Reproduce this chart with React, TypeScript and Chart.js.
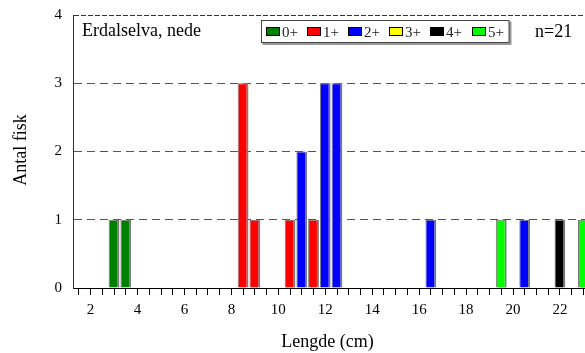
import React, { useEffect, useRef } from 'react';
import { Chart, registerables } from 'chart.js';

Chart.register(...registerables);

const FONT = '"Liberation Serif", "Times New Roman", serif';

const ageLabels = ['0+', '1+', '2+', '3+', '4+', '5+'];
const ageColors = ['#008000', '#ff0000', '#0000ff', '#ffff00', '#000000', '#00ff00'];

const age0Lengths = [3.0, 3.5];
const age0Counts = [1, 1];
const age1Lengths = [8.5, 9.0, 10.5, 11.5];
const age1Counts = [3, 1, 1, 1];
const age2Lengths = [11.0, 12.0, 12.5, 16.5, 20.5];
const age2Counts = [2, 3, 3, 1, 1];
const age3Lengths: number[] = [];
const age3Counts: number[] = [];
const age4Lengths = [22.0];
const age4Counts = [1];
const age5Lengths = [19.5, 23.0];
const age5Counts = [1, 1];

const xTickLabels = [2, 4, 6, 8, 10, 12, 14, 16, 18, 20, 22];
const yTickLabels = [0, 1, 2, 3, 4];

const chartTitle = 'Erdalselva, nede';
const sampleSize = 'n=21';
const xTitle = 'Lengde (cm)';
const yTitle = 'Antal fisk';

const X_MIN = 1.25;
const X_MAX = 23.75;
const X_STEP = 0.5;

const groups = [
  [age0Lengths, age0Counts],
  [age1Lengths, age1Counts],
  [age2Lengths, age2Counts],
  [age3Lengths, age3Counts],
  [age4Lengths, age4Counts],
  [age5Lengths, age5Counts],
];

const overlayPlugin = {
  id: 'overlay',
  afterDraw(chart: any) {
    const ctx = chart.ctx as CanvasRenderingContext2D;
    const area = chart.chartArea;
    ctx.save();
    ctx.fillStyle = '#000';
    ctx.font = `18px ${FONT}`;
    ctx.textAlign = 'left';
    ctx.textBaseline = 'alphabetic';
    ctx.fillText(chartTitle, area.left + 9, 36);
    ctx.fillText(sampleSize, 535, 37);

    ctx.textAlign = 'center';
    ctx.textBaseline = 'middle';
    ctx.fillText(xTitle, 327.5, 342);
    ctx.save();
    ctx.translate(21, 150);
    ctx.rotate(-Math.PI / 2);
    ctx.fillText(yTitle, 0, 0);
    ctx.restore();

    const bx = 261.5, by = 20.5, bw = 247.5, bh = 22;
    ctx.fillStyle = '#9a9a9a';
    ctx.fillRect(bx + 1, by + 1, bw + 1.5, bh + 1.5);
    ctx.fillStyle = '#fff';
    ctx.fillRect(bx, by, bw, bh);
    ctx.strokeStyle = '#444';
    ctx.lineWidth = 1;
    ctx.strokeRect(bx, by, bw, bh);

    ctx.font = `15px ${FONT}`;
    ctx.textAlign = 'left';
    ctx.textBaseline = 'alphabetic';
    chart.data.datasets.forEach((ds: any, i: number) => {
      const sx = Math.round(266 + i * 41.1);
      ctx.fillStyle = ds.backgroundColor;
      ctx.fillRect(sx, 27, 14, 9);
      ctx.strokeStyle = '#000';
      ctx.strokeRect(sx + 0.5, 27.5, 13, 8);
      ctx.fillStyle = '#222';
      ctx.fillText(ds.label, sx + 16, 36.5);
    });
    ctx.restore();
  },
};

export default function App() {
  const canvasRef = useRef<HTMLCanvasElement | null>(null);

  useEffect(() => {
    if (!canvasRef.current) return;
    const chart = new Chart(canvasRef.current, {
      type: 'bar',
      data: {
        datasets: groups.map(([lengths, counts], i) => ({
          label: ageLabels[i],
          data: lengths.map((x, j) => ({ x, y: counts[j] })),
          backgroundColor: ageColors[i],
          borderColor: '#7a7a7a',
          borderWidth: { left: 1, right: 2, top: 1, bottom: 0 },
          borderSkipped: 'start',
          barPercentage: 0.92,
          categoryPercentage: 1,
        })),
      },
      options: {
        responsive: false,
        devicePixelRatio: 1,
        animation: false,
        layout: { padding: { top: 15, right: 9, left: 0, bottom: 0 } },
        plugins: {
          legend: { display: false },
          tooltip: { enabled: false },
          title: { display: false },
        },
        scales: {
          x: {
            type: 'linear',
            min: X_MIN,
            max: X_MAX,
            offset: false,
            stacked: true,
            afterBuildTicks: (scale: any) => {
              const t: { value: number }[] = [];
              for (let v = X_MIN + X_STEP / 2; v <= X_MAX; v += X_STEP) t.push({ value: v });
              scale.ticks = t;
            },
            afterFit: (scale: any) => {
              scale.height = 65;
              scale.paddingLeft = 0;
              scale.paddingRight = 0;
            },
            ticks: {
              autoSkip: false,
              maxRotation: 0,
              minRotation: 0,
              padding: 6,
              color: '#000',
              font: { family: FONT, size: 15 },
              callback: (v: any) => (xTickLabels.includes(Number(v)) ? String(v) : ''),
            },
            grid: {
              offset: false,
              drawOnChartArea: false,
              drawTicks: true,
              tickLength: 7,
              tickColor: '#000',
              tickWidth: 1,
            },
            border: { display: true, color: '#000', width: 1 },
          },
          y: {
            type: 'linear',
            min: yTickLabels[0],
            max: yTickLabels[yTickLabels.length - 1],
            stacked: true,
            afterFit: (scale: any) => {
              scale.width = 73;
              scale.paddingTop = 0;
              scale.paddingBottom = 0;
            },
            ticks: {
              stepSize: 1,
              padding: 11,
              color: '#000',
              font: { family: FONT, size: 15 },
            },
            grid: {
              drawTicks: false,
              lineWidth: 1,
              color: (c: any) =>
                c.tick && c.tick.value === 0 ? 'rgba(0,0,0,0)' : c.tick && c.tick.value === 4 ? '#333' : '#555',
            },
            border: {
              display: true,
              color: '#333',
              width: 1,
              dash: (c: any) => (c.tick && c.tick.value === 4 ? [5, 2] : [8, 5]),
            },
          },
        },
      },
      plugins: [overlayPlugin],
    } as any);
    return () => chart.destroy();
  }, []);

  return (
    <div
      style={{
        position: 'fixed',
        left: 0,
        top: 0,
        width: 585,
        height: 353,
        overflow: 'hidden',
        background: '#fff',
      }}
    >
      <canvas ref={canvasRef} width={610} height={353} style={{ display: 'block', width: 610, height: 353 }} />
    </div>
  );
}
